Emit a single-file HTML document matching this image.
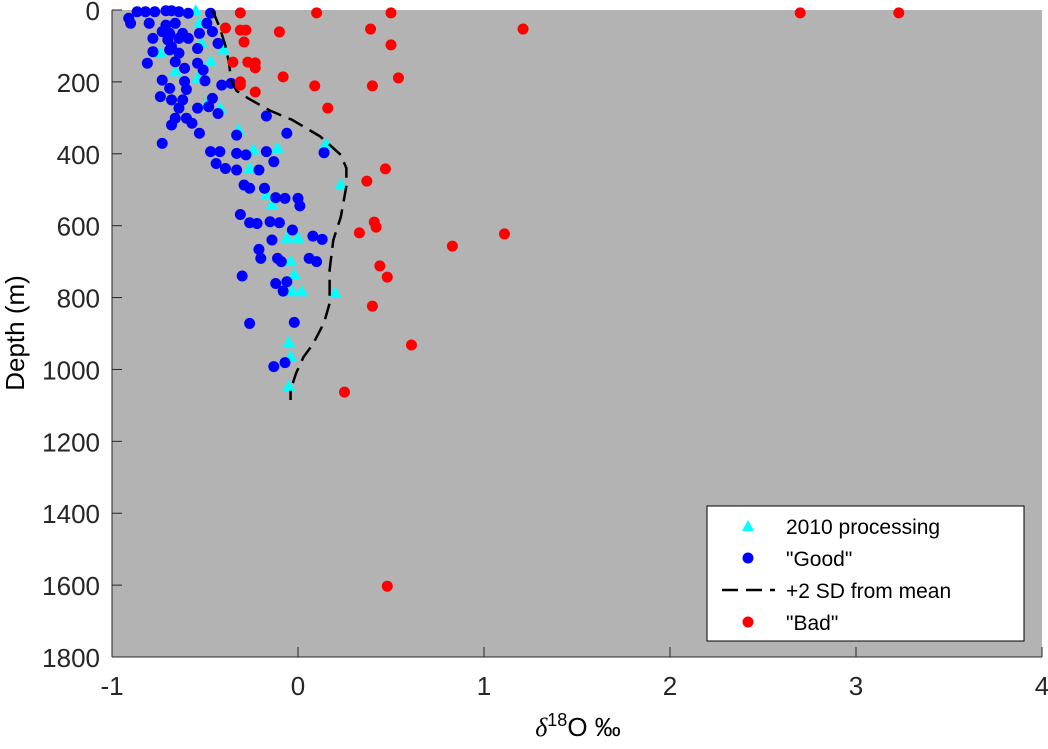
<!DOCTYPE html>
<html><head><meta charset="utf-8"><style>
body{margin:0;background:#fff;}
svg text{font-family:"Liberation Sans",sans-serif;}
</style></head><body>
<svg id="chart" width="1048" height="744" xmlns="http://www.w3.org/2000/svg">
<rect x="112" y="10" width="930" height="647" fill="#b3b3b3"/>
<g id="marks"></g>
<g id="axes"></g>
<text transform="translate(24,333) rotate(-90)" text-anchor="middle" font-size="26">Depth (m)</text>
<text x="578" y="736" text-anchor="middle" font-size="26"><tspan font-style="italic" font-family="Liberation Serif,serif">δ</tspan><tspan dy="-10" font-size="18">18</tspan><tspan dy="10">O ‰</tspan></text>
<g>
<rect x="707" y="506" width="317" height="135" fill="#fff" stroke="#000" stroke-width="1"/>
<polygon points="748,520 754,531 742,531" fill="#00ffff"/>
<text x="786" y="534" font-size="21">2010 processing</text>
<circle cx="748" cy="558" r="5.5" fill="#0000ff"/>
<text x="786" y="566" font-size="21">"Good"</text>
<line x1="722" y1="590" x2="775" y2="590" stroke="#000" stroke-width="2.5" stroke-dasharray="16,8"/>
<text x="786" y="598" font-size="21">+2 SD from mean</text>
<circle cx="748" cy="622" r="5.5" fill="#ff0000"/>
<text x="786" y="630" font-size="21">"Bad"</text>
</g>
</svg>
<script>
const xTicks=[-1,0,1,2,3,4];
const yTicks=[0,200,400,600,800,1000,1200,1400,1600,1800];
const cyanX=[-0.55,-0.53,-0.52,-0.40,-0.74,-0.47,-0.66,-0.54,-0.49,-0.42,-0.32,-0.24,-0.11,0.15,-0.26,0.23,-0.17,-0.14,-0.06,0.00,-0.04,-0.02,-0.03,0.02,0.20,-0.05,-0.04,-0.05];
const cyanD=[3,37,93,111,120,144,172,190,260,274,334,390,385,373,441,487,515,543,635,635,700,737,784,784,788,926,965,1048];
const goodX=[-0.865,-0.82,-0.77,-0.71,-0.68,-0.64,-0.59,-0.91,-0.90,-0.80,-0.47,-0.49,-0.71,-0.66,-0.73,-0.69,-0.62,-0.53,-0.46,-0.78,-0.70,-0.64,-0.59,-0.68,-0.54,-0.43,-0.78,-0.69,-0.64,-0.81,-0.66,-0.54,-0.51,-0.61,-0.73,-0.69,-0.61,-0.60,-0.50,-0.41,-0.36,-0.74,-0.68,-0.62,-0.64,-0.54,-0.46,-0.48,-0.43,-0.66,-0.60,-0.68,-0.57,-0.17,-0.53,-0.73,
-0.33,-0.06,-0.47,-0.42,-0.33,-0.28,-0.17,-0.13,-0.44,-0.39,-0.33,-0.21,0.14,-0.29,-0.26,-0.18,-0.12,-0.07,0.00,0.01,-0.31,-0.26,-0.22,-0.15,-0.10,-0.03,-0.14,0.08,0.13,-0.21,-0.20,-0.11,-0.09,0.06,0.10,-0.30,-0.12,-0.06,-0.08,-0.26,-0.02,-0.13,-0.07];
const goodD=[5,5,5,2,2,5,9,23,37,37,9,37,42,37,60,65,65,65,60,79,83,79,79,102,107,93,116,111,120,148,144,148,167,162,195,218,199,221,197,209,204,241,250,250,273,273,246,269,288,301,301,320,315,295,343,371,
348,343,394,394,399,403,394,422,427,441,445,445,397,487,496,496,522,524,524,545,569,592,594,589,592,612,640,629,638,666,691,691,700,691,700,740,761,756,782,872,869,992,981];
const sdX=[-0.46,-0.42,-0.39,-0.37,-0.36,-0.33,-0.27,-0.15,-0.03,0.12,0.23,0.26,0.26,0.23,0.19,0.17,0.17,0.14,0.08,0.03,-0.01,-0.04,-0.04];
const sdD=[0,50,100,150,195,225,245,280,306,352,403,440,490,576,640,723,816,870,930,965,1010,1057,1085];
const badX=[-0.31,0.10,0.50,2.70,3.23,-0.39,-0.31,-0.28,-0.10,0.39,1.21,-0.29,0.50,-0.35,-0.27,-0.23,-0.23,-0.08,0.54,-0.31,-0.31,0.09,0.40,-0.23,0.16,0.47,0.37,0.41,0.42,0.33,0.44,0.48,0.40,0.61,0.25,0.83,1.11,0.48];
const badD=[8,8,8,8,8,50,56,56,61,53,53,89,97,145,145,147,161,186,189,200,209,211,211,228,273,442,476,590,604,620,712,743,824,932,1063,657,623,1603];

const NS='http://www.w3.org/2000/svg';
const X0=112,X1=1042,Y0=10,Y1=657;
function sx(v){return X0+(v+1)/5*(X1-X0);}
function sy(d){return Y0+d/1800*(Y1-Y0);}
function mk(tag,attrs,parent){const e=document.createElementNS(NS,tag);for(const k in attrs)e.setAttribute(k,attrs[k]);parent.appendChild(e);return e;}
const marks=document.getElementById('marks');
const axes=document.getElementById('axes');
cyanX.forEach((v,i)=>{const x=sx(v),y=sy(cyanD[i]);
 const p=mk('polygon',{points:`${x},${y-7} ${x+6.5},${y+4.5} ${x-6.5},${y+4.5}`,fill:'#00ffff'},marks);
 
 });
goodX.forEach((v,i)=>{const c=mk('circle',{cx:sx(v),cy:sy(goodD[i]),r:5.5,fill:'#0000ff'},marks);
 
 });
const pl=mk('polyline',{points:sdX.map((v,i)=>sx(v)+','+sy(sdD[i])).join(' '),fill:'none',stroke:'#000','stroke-width':2.5,'stroke-dasharray':'16,8'},marks);


badX.forEach((v,i)=>{const c=mk('circle',{cx:sx(v),cy:sy(badD[i]),r:5.5,fill:'#ff0000'},marks);
 
 });
const ax=mk('line',{x1:X0,y1:Y1,x2:X1,y2:Y1,stroke:'#262626','stroke-width':1},axes);


const ay=mk('line',{x1:X0,y1:Y0,x2:X0,y2:Y1,stroke:'#262626','stroke-width':1},axes);


xTicks.forEach(t=>{const x=sx(t);
 mk('line',{x1:x,y1:Y1,x2:x,y2:Y1-10,stroke:'#262626'},axes);
 const tx=mk('text',{x:x,y:695,'text-anchor':'middle','font-size':26,fill:'#262626'},axes);
 tx.textContent=t;
 
 });
yTicks.forEach(t=>{const y=sy(t);
 mk('line',{x1:X0,y1:y,x2:X0+10,y2:y,stroke:'#262626'},axes);
 const tx=mk('text',{x:100,y:y+10,'text-anchor':'end','font-size':26,fill:'#262626'},axes);
 tx.textContent=t;
 
 });
</script>
</body></html>
